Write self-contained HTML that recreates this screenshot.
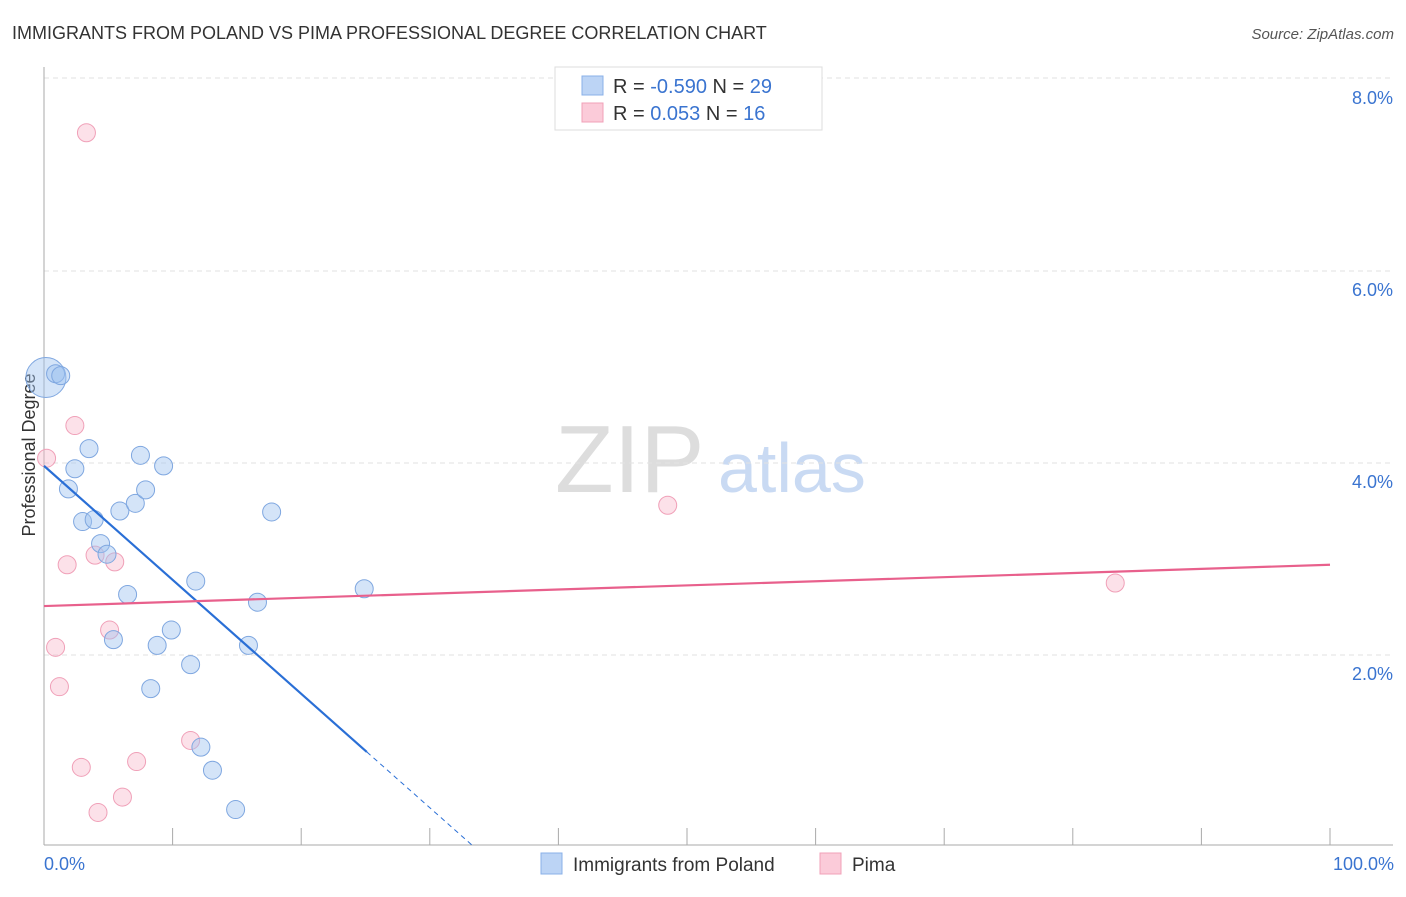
<!DOCTYPE html>
<html><head><meta charset="utf-8"><style>
body{margin:0;background:#fff;font-family:"Liberation Sans",sans-serif}
svg text{font-family:"Liberation Sans",sans-serif}
</style></head><body>
<svg id="c" width="1406" height="892">
<text x="12" y="39" font-size="18" fill="#333">IMMIGRANTS FROM POLAND VS PIMA PROFESSIONAL DEGREE CORRELATION CHART</text>
<text x="1394" y="39" font-size="15" fill="#555" font-style="italic" text-anchor="end">Source: ZipAtlas.com</text>
<text x="35" y="455" font-size="18" fill="#333" text-anchor="middle" transform="rotate(-90 35 455)">Professional Degree</text>
<text x="555" y="492" font-size="96" fill="#ddd" font-family="Liberation Serif">ZIP</text>
<text x="718" y="492" font-size="70" fill="#c9daf3">atlas</text>
<g id="grid"></g><g id="marks"></g>
<g>
<rect x="555" y="67" width="267" height="63" fill="#fff" stroke="#ddd"/>
<rect x="582" y="76" width="21" height="19" fill="#bcd4f5" stroke="#8ab0e8"/>
<rect x="582" y="103" width="21" height="19" fill="#fbcbd9" stroke="#f0a0b8"/>
<text x="613" y="93" font-size="20" fill="#333">R = <tspan fill="#3a74d0">-0.590</tspan>   N = <tspan fill="#3a74d0">29</tspan></text>
<text x="613" y="120" font-size="20" fill="#333">R =   <tspan fill="#3a74d0">0.053</tspan>   N =  <tspan fill="#3a74d0">16</tspan></text>
</g>
<g>
<rect x="541" y="853" width="21" height="21" fill="#bcd4f5" stroke="#8ab0e8"/>
<text x="573" y="871" font-size="19" fill="#333">Immigrants from Poland</text>
<rect x="820" y="853" width="21" height="21" fill="#fbcbd9" stroke="#f0a0b8"/>
<text x="852" y="871" font-size="19" fill="#333">Pima</text>
</g>
<text x="44" y="870" font-size="18" fill="#3a74d0">0.0%</text>
<text x="1394" y="870" font-size="18" fill="#3a74d0" text-anchor="end">100.0%</text>
</svg>
<script>
const yTicks=[2,4,6,8];
const yTickLabels=["2.0%","4.0%","6.0%","8.0%"];
const polandX=[0.15,0.9,1.3,3.5,2.4,1.9,3.0,3.9,4.4,4.9,5.9,7.1,7.9,7.5,9.3,17.7,6.5,5.4,8.8,9.9,11.8,11.4,8.3,16.6,15.9,24.9,12.2,13.1,14.9];
const polandY=[4.89,4.93,4.91,4.15,3.94,3.73,3.39,3.41,3.16,3.05,3.50,3.58,3.72,4.08,3.97,3.49,2.63,2.16,2.10,2.26,2.77,1.90,1.65,2.55,2.10,2.69,1.04,0.80,0.39];
const polandR=[20,9,9,9,9,9,9,9,9,9,9,9,9,9,9,9,9,9,9,9,9,9,9,9,9,9,9,9,9];
const pimaX=[3.3,2.4,0.2,1.8,3.97,5.5,0.9,5.1,1.2,2.9,7.2,11.4,6.1,4.2,48.5,83.3];
const pimaY=[7.44,4.39,4.05,2.94,3.04,2.97,2.08,2.26,1.67,0.83,0.89,1.11,0.52,0.36,3.56,2.75];
const polandTrend=[3.97,-0.1187];
const pimaTrend=[2.51,0.0043];
const X=v=>44+v*12.86, Y=v=>847-v*96;
const NS="http://www.w3.org/2000/svg";
function mk(p,t,a){const e=document.createElementNS(NS,t);for(const k in a)e.setAttribute(k,a[k]);p.appendChild(e);return e;}
const g=document.getElementById('grid'), m=document.getElementById('marks');
yTicks.forEach((t,i)=>{
 const l=mk(g,'line',{x1:44,x2:1393,y1:Y(t)+(t==8?-1:0),y2:Y(t)+(t==8?-1:0),stroke:'#e2e2e2','stroke-dasharray':'5,4'});
 
 
 const tx=mk(g,'text',{x:1393,y:Y(t)+25,'font-size':18,fill:'#3a74d0','text-anchor':'end'});
 tx.textContent=yTickLabels[i];
 
 
});
const ax=mk(g,'line',{x1:44,x2:44,y1:67,y2:845,stroke:'#aaa'});


const bx=mk(g,'line',{x1:44,x2:1393,y1:845,y2:845,stroke:'#aaa'});


for(let i=1;i<=10;i++){const t=mk(g,'line',{x1:X(i*10),x2:X(i*10),y1:828,y2:845,stroke:'#aaa'});
 
 }
pimaX.forEach((v,i)=>{const c=mk(m,'circle',{cx:X(v),cy:Y(pimaY[i]),r:9,fill:'rgba(248,180,200,0.4)',stroke:'#f0a0b8'});
 
 });
polandX.forEach((v,i)=>{const c=mk(m,'circle',{cx:X(v),cy:Y(polandY[i]),r:polandR[i],fill:'rgba(160,195,240,0.45)',stroke:'#7fa7e0'});
 
 });
const xe=25.1, x0=-polandTrend[0]/polandTrend[1];
const bl=mk(m,'line',{x1:X(0),y1:Y(polandTrend[0]),x2:X(xe),y2:Y(polandTrend[0]+polandTrend[1]*xe),stroke:'#2a6fd6','stroke-width':2.2});


const bd=mk(m,'line',{x1:X(xe),y1:Y(polandTrend[0]+polandTrend[1]*xe),x2:X(x0),y2:Y(0),stroke:'#2a6fd6','stroke-width':1,'stroke-dasharray':'5,4'});


const pl=mk(m,'line',{x1:X(0),y1:Y(pimaTrend[0]),x2:X(100),y2:Y(pimaTrend[0]+pimaTrend[1]*100),stroke:'#e8608c','stroke-width':2.2});


</script>
</body></html>
